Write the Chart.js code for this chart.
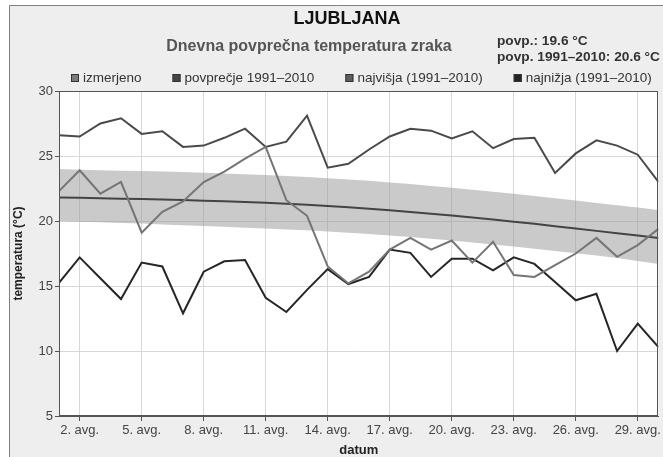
<!DOCTYPE html>
<html><head><meta charset="utf-8">
<script src="https://cdn.jsdelivr.net/npm/chart.js@4/dist/chart.umd.min.js"></script>
<style>html,body{margin:0;padding:0;background:#fff;}#wrap{width:663px;height:457px;}</style>
</head><body><div id="wrap"><canvas id="c" width="663" height="457"></canvas></div>
<script>
const days = [1,2,3,4,5,6,7,8,9,10,11,12,13,14,15,16,17,18,19,20,21,22,23,24,25,26,27,28,29,30];
const xTickDays = [2,5,8,11,14,17,20,23,26,29];
const izmerjeno = [22.3,23.9,22.1,23.0,19.1,20.7,21.5,23.0,23.8,24.8,25.7,21.6,20.4,16.5,15.2,16.1,17.8,18.7,17.8,18.5,16.8,18.4,15.85,15.7,16.6,17.5,18.7,17.25,18.15,19.4];
const povprecje = [21.8,21.78,21.75,21.72,21.69,21.65,21.61,21.56,21.51,21.46,21.40,21.33,21.25,21.16,21.06,20.95,20.83,20.70,20.56,20.42,20.27,20.11,19.95,19.78,19.60,19.42,19.24,19.06,18.88,18.70];
const najvisja = [26.6,26.5,27.5,27.9,26.7,26.9,25.7,25.8,26.4,27.1,25.7,26.1,28.1,24.1,24.4,25.5,26.5,27.1,26.95,26.35,26.9,25.6,26.3,26.4,23.7,25.2,26.2,25.8,25.1,23.0];
const najnizja = [15.25,17.2,15.6,14.0,16.8,16.5,12.9,16.1,16.9,17.0,14.1,13.0,14.7,16.3,15.15,15.7,17.8,17.55,15.7,17.1,17.1,16.2,17.2,16.7,15.3,13.9,14.4,10.0,12.1,10.3];
const bandUpper = [24.0,23.95,23.9,23.87,23.84,23.8,23.76,23.71,23.66,23.6,23.53,23.46,23.38,23.29,23.2,23.09,22.97,22.84,22.7,22.56,22.41,22.25,22.09,21.92,21.75,21.57,21.39,21.21,21.03,20.85];
const bandLower = [20.0,19.95,19.9,19.85,19.8,19.74,19.68,19.62,19.55,19.48,19.42,19.35,19.28,19.2,19.1,19.0,18.88,18.76,18.63,18.5,18.35,18.2,18.04,17.87,17.7,17.52,17.34,17.15,16.93,16.7];
const seriesNames = ['izmerjeno','povprečje 1991–2010','najvišja (1991–2010)','najnižja (1991–2010)'];
const titleText = 'LJUBLJANA';
const subtitleText = 'Dnevna povprečna temperatura zraka';
const noteLines = ['povp.: 19.6 °C','povp. 1991–2010: 20.6 °C'];
const yTitle = 'temperatura (°C)';
const xTitle = 'datum';

const FF = '"Liberation Sans", Arial, sans-serif';

const decor = {
  id: 'decor',
  afterLayout(chart) {
    chart.boxes.forEach(b => {
      if (b.options && b.options.text === titleText) { b.left += 12; b.right += 12; }
      if (b.options && b.options.text === subtitleText) { b.left -= 26; b.right -= 26; }
    });
  },
  beforeDraw(chart) {
    const {ctx, chartArea: a, width: W, height: H} = chart;
    ctx.save();
    ctx.fillStyle = '#ffffff'; ctx.fillRect(0, 0, W, H);
    ctx.fillStyle = '#eeeeee'; ctx.fillRect(9, 5, W - 9, H - 5);
    ctx.strokeStyle = '#808080'; ctx.lineWidth = 1;
    ctx.beginPath(); ctx.moveTo(9.5, H); ctx.lineTo(9.5, 5.5); ctx.lineTo(W, 5.5); ctx.stroke();
    ctx.fillStyle = '#ffffff'; ctx.fillRect(a.left, a.top, a.right - a.left, a.bottom - a.top);
    ctx.restore();
  },
  afterDatasetsDraw(chart) {
    const {ctx, chartArea: a} = chart;
    ctx.save();
    ctx.strokeStyle = '#555'; ctx.lineWidth = 1;
    ctx.strokeRect(Math.round(a.left) + 0.5, Math.round(a.top) + 0.5, Math.round(a.right - a.left) - 1, Math.round(a.bottom - a.top) - 1);
    ctx.restore();
  },
  afterDraw(chart) {
    const {ctx} = chart;
    ctx.save();
    // legend
    ctx.font = '13.5px ' + FF;
    ctx.textBaseline = 'middle';
    let x = 71; const y = 78;
    chart.data.datasets.filter(d => d.inLegend).forEach(d => {
      ctx.fillStyle = d.legendColor; ctx.fillRect(x, y - 4, 8, 8);
      ctx.strokeStyle = '#333'; ctx.lineWidth = 1; ctx.strokeRect(x + 0.5, y - 3.5, 7, 7);
      ctx.fillStyle = '#333'; ctx.textAlign = 'left';
      ctx.fillText(d.label, x + 12, y);
      x += 12 + ctx.measureText(d.label).width + 31;
    });
    // notes
    ctx.font = 'bold 13.7px ' + FF;
    ctx.fillStyle = '#333';
    ctx.fillText(noteLines[0], 497, 41);
    ctx.fillText(noteLines[1], 497, 57);
    ctx.restore();
  }
};

const lineBase = {pointRadius: 0, pointHoverRadius: 0, borderWidth: 2, tension: 0, fill: false};

new Chart(document.getElementById('c'), {
  type: 'line',
  data: {
    labels: days,
    datasets: [
      Object.assign({}, lineBase, {label: seriesNames[0], data: izmerjeno, borderColor: '#757575', backgroundColor: '#777', legendColor: '#7a7a7a', inLegend: true, order: 0}),
      Object.assign({}, lineBase, {label: seriesNames[1], data: povprecje, borderColor: '#444', backgroundColor: '#444', legendColor: '#444', inLegend: true, order: 3}),
      Object.assign({}, lineBase, {label: seriesNames[2], data: najvisja, borderColor: '#4a4a4a', backgroundColor: '#555', legendColor: '#5e5e5e', inLegend: true, order: 2}),
      Object.assign({}, lineBase, {label: seriesNames[3], data: najnizja, borderColor: '#262626', backgroundColor: '#222', legendColor: '#222', inLegend: true, order: 1}),
      Object.assign({}, lineBase, {label: 'band upper', data: bandUpper, borderWidth: 0, borderColor: 'rgba(0,0,0,0)', backgroundColor: 'rgba(150,150,150,0.5)', fill: '+1', inLegend: false, order: 10}),
      Object.assign({}, lineBase, {label: 'band lower', data: bandLower, borderWidth: 0, borderColor: 'rgba(0,0,0,0)', backgroundColor: 'rgba(0,0,0,0)', inLegend: false, order: 11})
    ]
  },
  options: {
    responsive: false,
    animation: false,
    devicePixelRatio: 1,
    layout: {padding: {left: 10, right: 3, top: 0, bottom: 0}},
    plugins: {
      legend: {display: false},
      tooltip: {enabled: false},
      title: {display: true, text: titleText, color: '#111', font: {family: FF, size: 18, weight: 'bold', lineHeight: 1}, padding: {top: 10, bottom: 0}},
      subtitle: {display: true, text: subtitleText, color: '#555', font: {family: FF, size: 16, weight: 'bold'}, padding: {top: 9.4, bottom: 34.4}}
    },
    scales: {
      x: {
        type: 'linear', min: 1, max: 30,
        afterBuildTicks: s => { s.ticks = xTickDays.map(v => ({value: v})); },
        afterFit: s => { s.height = 41; },
        ticks: {autoSkip: false, maxRotation: 0, color: '#444', padding: 2, font: {family: FF, size: 13}, callback: v => v + '. avg.'},
        grid: {color: '#d8d8d8', tickColor: '#555', tickLength: 5},
        border: {display: true, color: '#555'},
        title: {display: true, text: xTitle, color: '#222', font: {family: FF, size: 13, weight: 'bold', lineHeight: 1}, padding: {top: 0, bottom: 0}}
      },
      y: {
        min: 5, max: 30,
        afterFit: s => { s.width = 49; },
        ticks: {stepSize: 5, color: '#444', padding: 2, font: {family: FF, size: 13}},
        grid: {color: '#d8d8d8', tickColor: '#555', tickLength: 4},
        border: {display: true, color: '#555'},
        title: {display: true, text: yTitle, color: '#222', font: {family: FF, size: 12, weight: 'bold'}, padding: {top: 1, bottom: 0}}
      }
    }
  },
  plugins: [decor]
});
</script>
</body></html>
